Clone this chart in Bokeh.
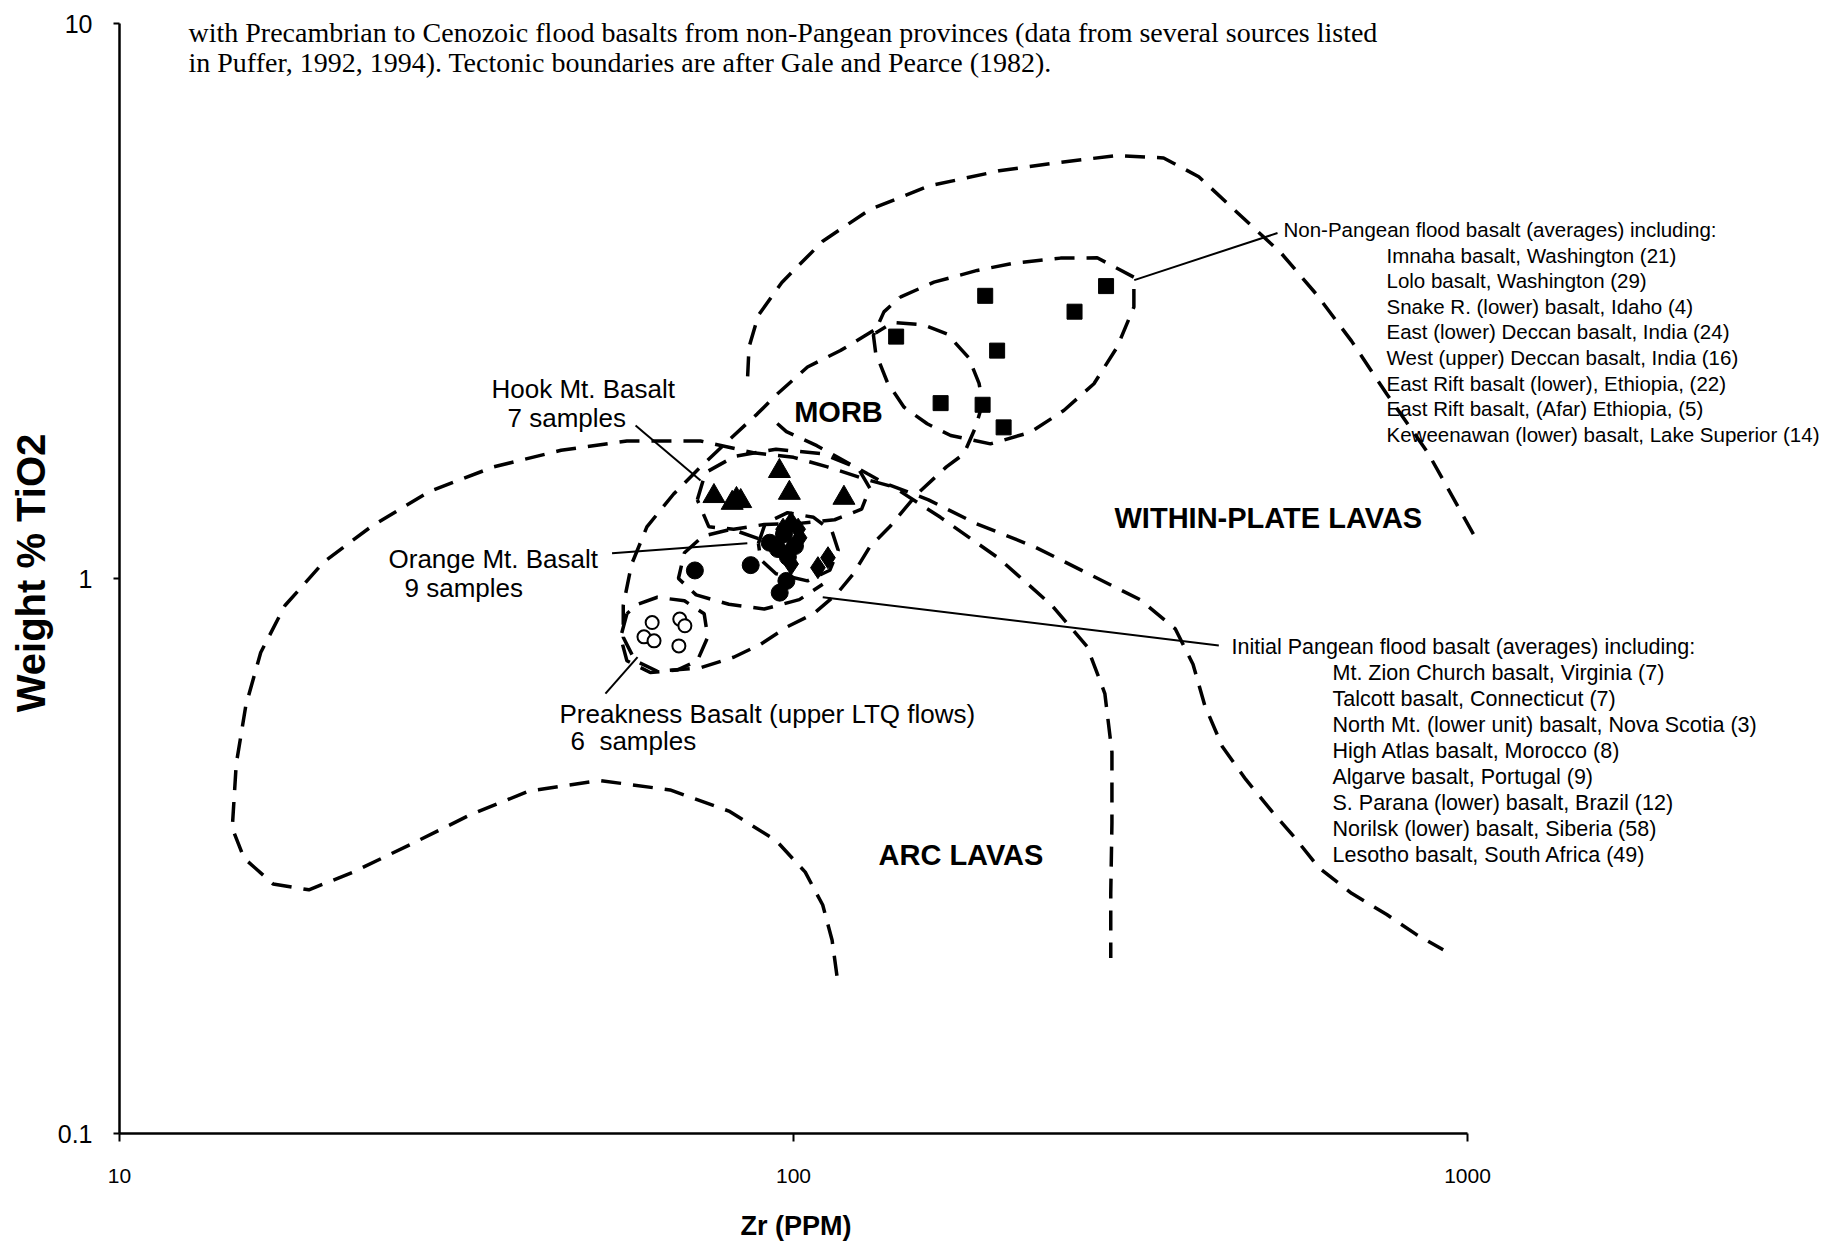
from bokeh.plotting import figure
from bokeh.models import Label, Title, Range1d, FixedTicker, CustomJSTickFormatter
from bokeh.embed import file_html
from bokeh.resources import INLINE

# ---------------- data (Zr in ppm, TiO2 in wt %) ----------------
x_ticks = [10, 100, 1000]
y_ticks = [0.1, 1, 10]

# Non-Pangean flood basalt averages (squares)
np_zr = [142.0, 192.5, 200.5, 165.3, 190.8, 205.0, 261.2, 290.9]
np_ti = [2.728, 3.231, 2.574, 2.070, 2.056, 1.872, 3.025, 3.364]

# Hook Mt. Basalt, 7 samples (triangles)
hook_zr = [76.2, 81.1, 83.5, 95.3, 98.6, 118.8, 82.3]
hook_ti = [1.407, 1.368, 1.378, 1.561, 1.426, 1.397, 1.390]

# Orange Mt. Basalt, 9 samples (filled circles)
orange_zr = [71.4, 86.4, 92.2, 97.6, 95.4, 94.8, 98.1, 96.8, 100.5]
orange_ti = [1.034, 1.057, 1.160, 0.990, 0.943, 1.130, 1.093, 1.202, 1.144]

# Initial Pangean flood basalt averages (diamonds)
ip_zr = [99.2, 102.1, 98.7, 99.2, 108.7, 112.5, 96.5, 101.6]
ip_ti = [1.260, 1.184, 1.120, 1.062, 1.046, 1.090, 1.227, 1.227]

# Preakness Basalt, 6 samples (open circles)
preak_zr = [61.7, 60.0, 62.1, 67.8, 69.0, 67.6]
preak_ti = [0.833, 0.785, 0.772, 0.845, 0.822, 0.756]

# Tectonic boundaries (after Gale and Pearce, 1982) and group envelopes
wpl_upper_zr = [85.5, 85.9, 88.7, 96.1, 110.5, 129.8, 158.6, 201.9, 246.8, 301.5,
                354.1, 399.3, 450.5, 528.9, 596.6, 673.0, 758.9, 873.4, 1033.7]
wpl_upper_ti = [2.313, 2.612, 2.980, 3.416, 4.052, 4.621, 5.094, 5.427, 5.616, 5.781,
                5.725, 5.296, 4.621, 3.859, 3.253, 2.677, 2.150, 1.685, 1.169]

arc_zr = [116.0, 114.1, 110.5, 104.1, 94.2, 80.2, 65.6, 51.6, 40.5, 33.2, 27.1, 22.2,
          19.1, 16.9, 15.3, 14.7, 14.9, 15.4, 16.2, 17.6, 20.1, 23.6, 28.8, 35.9, 45.2,
          56.6, 72.8, 87.2, 100.0, 112.3, 128.8, 140.6, 165.2, 201.9, 241.8, 272.7,
          289.7, 296.8, 296.8, 295.6, 295.6]
arc_ti = [0.1925, 0.2229, 0.2580, 0.2957, 0.3373, 0.3810, 0.4159, 0.4325, 0.4139,
          0.3755, 0.3323, 0.2957, 0.2748, 0.2816, 0.3135, 0.3551, 0.4630, 0.5909,
          0.7357, 0.8941, 1.071, 1.239, 1.434, 1.589, 1.702, 1.769, 1.769, 1.685,
          1.653, 1.589, 1.506, 1.463, 1.289, 1.086, 0.8941, 0.7538, 0.6204, 0.4862,
          0.3628, 0.2709, 0.2071]

morb_zr = [131.4, 117.4, 104.9, 94.6, 88.3, 79.9, 72.8, 66.4, 60.6, 57.5, 55.9, 55.9,
           58.2, 62.8, 72.8, 81.5, 89.4, 98.0, 107.1, 116.0, 122.7, 129.8, 138.9, 152.5,
           168.6, 179.0, 186.3, 190.8, 188.5, 181.9, 169.2, 155.6, 140.6, 132.4]
morb_ti = [2.797, 2.575, 2.405, 2.150, 1.978, 1.769, 1.589, 1.420, 1.239, 1.060, 0.8941,
           0.7838, 0.7110, 0.6805, 0.6904, 0.7214, 0.7612, 0.8190, 0.8641, 0.9388, 1.020,
           1.141, 1.239, 1.420, 1.589, 1.677, 1.875, 2.067, 2.247, 2.500, 2.756, 2.866,
           2.894, 2.770]

wpl_lower_zr = [94.6, 97.6, 108.3, 128.8, 136.7, 158.6, 186.3, 227.7, 278.3, 326.7, 368.6,
                391.5, 407.5, 432.7, 468.9, 512.3, 555.0, 601.4, 673.0, 758.9, 839.2, 920.3]
wpl_lower_ti = [1.902, 1.839, 1.735, 1.544, 1.484, 1.386, 1.257, 1.141, 1.010, 0.9160,
                0.8111, 0.7007, 0.5909, 0.4981, 0.4345, 0.3810, 0.3406, 0.3015, 0.2709,
                0.2481, 0.2284, 0.2144]

np_env_zr = [144.0, 161.6, 187.3, 212.3, 249.0, 282.2, 319.9, 319.9, 302.1, 279.1, 251.8,
             224.8, 196.0, 171.1, 157.9, 145.8, 137.8, 132.4, 131.4, 136.2, 144.0]
np_env_ti = [3.214, 3.419, 3.590, 3.700, 3.778, 3.783, 3.491, 3.082, 2.611, 2.243, 2.008,
             1.835, 1.748, 1.810, 1.900, 2.037, 2.257, 2.550, 2.743, 3.023, 3.214]

hook_env_zr = [72.0, 74.0, 81.8, 94.2, 110.5, 124.7, 129.8, 126.2, 115.1, 102.0, 90.5, 81.5, 74.9, 72.0]
hook_env_ti = [1.386, 1.551, 1.660, 1.710, 1.677, 1.581, 1.455, 1.333, 1.276, 1.257, 1.251, 1.227, 1.239, 1.386]

ip_env_zr = [88.7, 90.8, 98.0, 107.1, 114.1, 116.5, 113.2, 104.9, 94.2, 89.4, 88.7]
ip_env_ti = [1.157, 1.257, 1.314, 1.289, 1.215, 1.124, 1.035, 0.9902, 1.020, 1.081, 1.157]

orange_env_zr = [88.7, 80.9, 73.4, 68.9, 67.5, 71.7, 80.2, 90.5, 102.0, 110.5]
orange_env_ti = [1.180, 1.227, 1.192, 1.113, 1.000, 0.9342, 0.8985, 0.8811, 0.9160, 0.9761]

preak_env_zr = [56.6, 55.4, 56.6, 61.3, 67.2, 72.0, 74.6, 73.7, 68.9, 62.8, 58.7, 56.6]
preak_env_ti = [0.8641, 0.7838, 0.7110, 0.6772, 0.6838, 0.7110, 0.7838, 0.8641, 0.9115, 0.9251, 0.8985, 0.8641]

# leader lines: label end -> group
leader_x0 = [58.3, 53.8, 52.6, 522.5, 427.6]
leader_y0 = [1.886, 1.111, 0.6204, 4.192, 0.7574]
leader_x1 = [72.8, 85.4, 58.7, 320.3, 110.5]
leader_y1 = [1.502, 1.157, 0.7214, 3.449, 0.9251]

np_list = ["Imnaha basalt, Washington (21)",
           "Lolo basalt, Washington (29)",
           "Snake R. (lower) basalt, Idaho (4)",
           "East (lower) Deccan basalt, India (24)",
           "West (upper) Deccan basalt, India (16)",
           "East Rift basalt (lower), Ethiopia, (22)",
           "East Rift basalt, (Afar) Ethiopia, (5)",
           "Keweenawan (lower) basalt, Lake Superior (14)"]
ip_list = ["Mt. Zion Church basalt, Virginia (7)",
           "Talcott basalt, Connecticut (7)",
           "North Mt. (lower unit) basalt, Nova Scotia (3)",
           "High Atlas basalt, Morocco (8)",
           "Algarve basalt, Portugal (9)",
           "S. Parana (lower) basalt, Brazil (12)",
           "Norilsk (lower) basalt, Siberia (58)",
           "Lesotho basalt, South Africa (49)"]

# ---------------- figure ----------------
W, H = 1842, 1242
FL, FR, FT, FB = 119, 1467, 23, 1133   # axis box (10..1000, 0.1..10) in page pixels
TOP = 12                               # frame top (page px), a bit above the axis top

# the frame is stretched to the right canvas edge (and slightly upward) so the
# annotation texts that lie beyond the axes are not clipped; the axis lines
# themselves are bounded to 10..1000 and 0.1..10
x_end = 10 ** (1 + 2.0 * (W - FL) / (FR - FL))
y_end = 10 ** (-1 + 2.0 * (FB - TOP) / (FB - FT))

p = figure(width=W, height=H, x_axis_type="log", y_axis_type="log",
           x_range=Range1d(10, x_end), y_range=Range1d(0.1, y_end),
           output_backend="svg", toolbar_location=None,
           min_border_left=FL, min_border_right=0,
           min_border_top=TOP, min_border_bottom=H - FB)
p.outline_line_color = None
p.grid.visible = False
p.background_fill_color = "white"
p.border_fill_color = "white"

fmt = CustomJSTickFormatter(code="return tick.toString();")
for ax in (p.xaxis[0], p.yaxis[0]):
    ax.axis_line_width = 2.5
    ax.axis_line_color = "black"
    ax.major_tick_line_width = 2
    ax.major_tick_line_color = "black"
    ax.major_tick_in = 0
    ax.minor_tick_line_color = None
    ax.major_label_text_font = "Liberation Sans"
    ax.major_label_text_color = "black"
    ax.axis_label_text_font = "Liberation Sans"
    ax.axis_label_text_font_style = "bold"
    ax.axis_label_text_color = "black"
    ax.formatter = fmt

p.xaxis[0].bounds = (10, 1000)
p.yaxis[0].bounds = (0.1, 10)
p.xaxis[0].ticker = FixedTicker(ticks=x_ticks, minor_ticks=[])
p.yaxis[0].ticker = FixedTicker(ticks=y_ticks, minor_ticks=[])
p.xaxis[0].major_label_text_font_size = "21px"
p.xaxis[0].major_tick_out = 8
p.xaxis[0].major_label_standoff = 27
# blank spacer label: pushes the x title (below) down to its place
p.xaxis[0].axis_label = " "
p.xaxis[0].axis_label_text_font_size = "1px"
p.xaxis[0].axis_label_standoff = 17
p.yaxis[0].major_label_text_font_size = "25px"
p.yaxis[0].major_tick_out = 6
p.yaxis[0].major_label_standoff = 21
p.yaxis[0].axis_label = "Weight % TiO2"
p.yaxis[0].axis_label_text_font_size = "40px"
p.yaxis[0].axis_label_standoff = 2

# x-axis title, centred under the 10..1000 axis span (the frame is wider)
p.add_layout(Title(text="Zr (PPM)", align="left", offset=621, standoff=4,
                   vertical_align="bottom", text_font="Liberation Sans",
                   text_font_style="bold", text_font_size="27px",
                   text_color="black"), "below")

DASH = "20 12"
for xs, ys in [(wpl_upper_zr, wpl_upper_ti), (arc_zr, arc_ti), (morb_zr, morb_ti),
               (wpl_lower_zr, wpl_lower_ti), (np_env_zr, np_env_ti),
               (hook_env_zr, hook_env_ti), (ip_env_zr, ip_env_ti),
               (orange_env_zr, orange_env_ti), (preak_env_zr, preak_env_ti)]:
    p.line(xs, ys, line_color="black", line_width=3.5, line_dash=DASH)

p.segment(leader_x0, leader_y0, leader_x1, leader_y1, line_color="black", line_width=2)

p.scatter(np_zr, np_ti, marker="square", size=15, color="black")
p.scatter(hook_zr, hook_ti, marker="triangle", size=22, color="black")
p.scatter(orange_zr, orange_ti, marker="circle", size=17, color="black")
p.scatter(ip_zr, ip_ti, marker="diamond", size=22, color="black")
p.scatter(preak_zr, preak_ti, marker="circle", size=13, fill_color="white",
          line_color="black", line_width=2)


def lab(text, px, py, size, style="normal", font="Liberation Sans", align="left"):
    """text annotation placed at page pixel (px, py); screen units are frame-relative"""
    p.add_layout(Label(x=px - FL, y=FB - py, x_units="screen", y_units="screen",
                       text=text, text_font=font,
                       text_font_size=f"{size}px", text_font_style=style,
                       text_align=align, text_baseline="middle", text_color="black"))


lab("with Precambrian to Cenozoic flood basalts from non-Pangean provinces (data from several sources listed",
    188, 32, 28, font="Liberation Serif")
lab("in Puffer, 1992, 1994).  Tectonic boundaries are after Gale and Pearce (1982).",
    188, 62, 28, font="Liberation Serif")

lab("Hook Mt. Basalt", 491, 388, 26)
lab("7 samples", 507, 417, 26)
lab("Orange Mt. Basalt", 388, 558, 26)
lab("9 samples", 404, 587, 26)
lab("Preakness Basalt (upper LTQ flows)", 559, 713, 26)
lab("6\u00a0 samples", 570, 740, 26)
lab("MORB", 838, 411, 29, "bold", align="center")
lab("WITHIN-PLATE LAVAS", 1114, 517, 29, "bold")
lab("ARC LAVAS", 878, 854, 29, "bold")

lab("Non-Pangean flood basalt (averages) including:", 1283, 229, 20.5)
for i, t in enumerate(np_list):
    lab(t, 1386, 229 + 25.6 * (i + 1), 20.5)
lab("Initial Pangean flood basalt (averages) including:", 1231, 646, 21.5)
for i, t in enumerate(ip_list):
    lab(t, 1332, 646 + 26.0 * (i + 1), 21.5)

open("out.html", "w").write(file_html(p, INLINE))
